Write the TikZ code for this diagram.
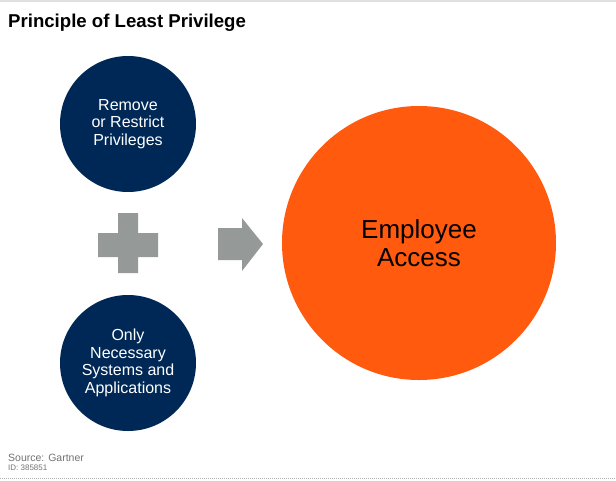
\documentclass[tikz,border=0pt]{standalone}
\usepackage{fontspec}
\setmainfont{Liberation Sans}
\definecolor{navy}{HTML}{002856}
\definecolor{orng}{HTML}{FF5A0E}
\definecolor{greyshape}{HTML}{959A99}
\begin{document}
\begin{tikzpicture}[x=1pt,y=-1pt,
  navycirc/.style={circle,fill=navy,minimum size=136pt,inner sep=0pt,text=white,align=center,font=\fontsize{16}{17.5}\selectfont},
  bigcirc/.style={circle,fill=orng,minimum size=274pt,inner sep=0pt,text=black,align=center,font=\fontsize{26}{28}\selectfont},
  shapefill/.style={fill=greyshape,draw=none}]
\useasboundingbox (0,0) rectangle (616,480);
\fill[white] (0,0) rectangle (616,480);
\draw[color=black!12,line width=1.5pt] (0,0.75) -- (616,0.75);
\draw[color=black!30,line width=0.8pt,dash pattern=on 1pt off 1pt] (0,478.5) -- (616,478.5);
\node[anchor=base west,inner sep=0pt,font=\fontsize{18.6}{20}\selectfont\bfseries] (title) at (8,27) {Principle of Least Privilege};
\node[navycirc] (top) at (128,124) {Remove\\or Restrict\\Privileges};
\node[navycirc] (bot) at (128,363) {Only\\Necessary\\Systems and\\Applications};
\node[bigcirc] (emp) at (419,243) {Employee\\Access};
\path[shapefill] (98,233) -- (118,233) -- (118,213) -- (138,213) -- (138,233) -- (158,233) -- (158,257) -- (138,257) -- (138,273) -- (118,273) -- (118,257) -- (98,257) -- cycle;
\path[shapefill] (218,228) -- (242,228) -- (242,218) -- (263,244) -- (242,271) -- (242,260) -- (218,260) -- cycle;
\node[anchor=base west,inner sep=0pt,text=black!55,font=\fontsize{10.5}{12}\selectfont] (src) at (8,461) {Source: Gartner};
\node[anchor=base west,inner sep=0pt,text=black!55,font=\fontsize{8}{9}\selectfont] (id) at (8,470) {ID: 385851};
\end{tikzpicture}
\end{document}
